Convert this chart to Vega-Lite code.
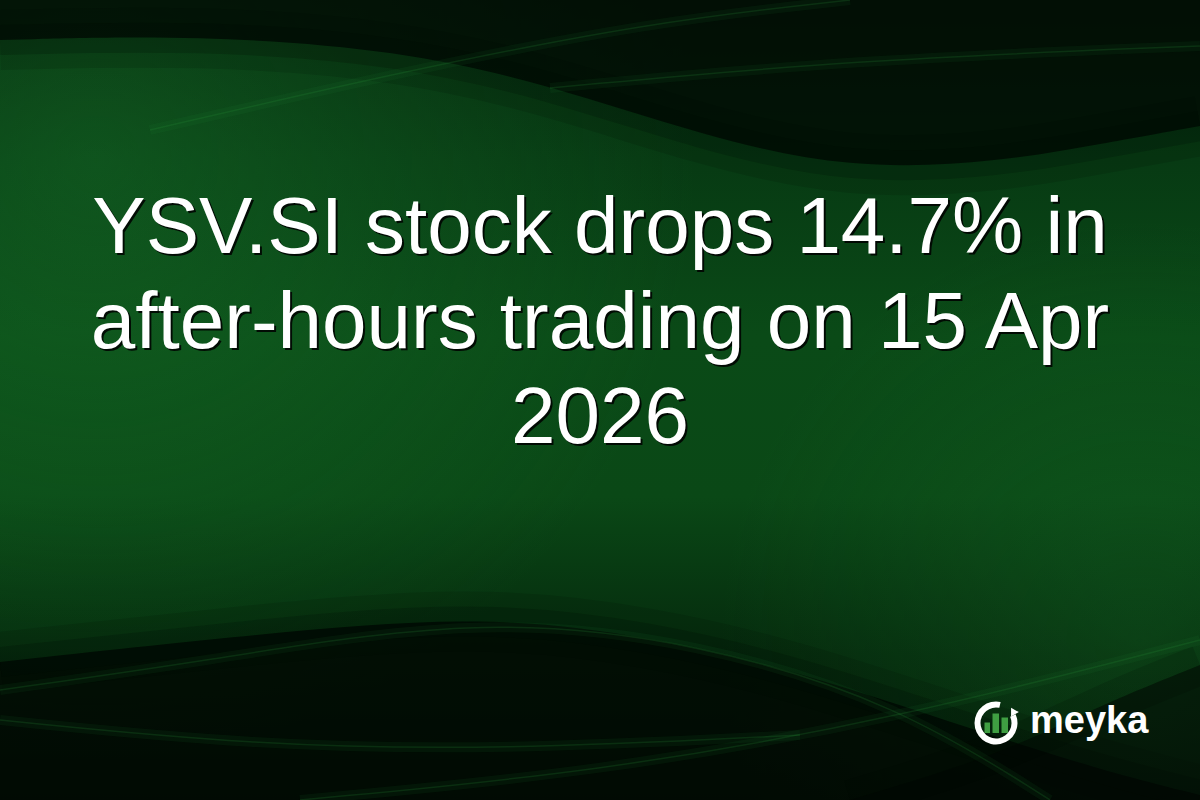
{
  "$schema": "https://vega.github.io/schema/vega-lite/v6.json",
  "width": 1200,
  "height": 800,
  "autosize": {"type": "fit", "contains": "padding"},
  "padding": 0,
  "background": "#063010",
  "config": {"view": {"stroke": null}},
  "encoding": {
    "x": {"field": "x", "type": "quantitative", "axis": null, "scale": {"domain": [0, 1200], "nice": false, "zero": false}},
    "y": {"field": "y", "type": "quantitative", "axis": null, "scale": {"domain": [0, 800], "nice": false, "zero": false, "reverse": true}}
  },
  "layer": [
    {
      "data": {"values": [{"x": 0, "x2": 1200, "y": 0, "y2": 800}]},
      "mark": {
        "type": "rect",
        "clip": true,
        "fill": {
          "gradient": "linear", "x1": 0, "y1": 0, "x2": 0, "y2": 1,
          "stops": [
            {"offset": 0, "color": "#04240c"},
            {"offset": 0.2, "color": "#073a13"},
            {"offset": 0.42, "color": "#0a4a17"},
            {"offset": 0.62, "color": "#0a4816"},
            {"offset": 0.82, "color": "#052a0d"},
            {"offset": 1, "color": "#031807"}
          ]
        }
      },
      "encoding": {"x2": {"field": "x2"}, "y2": {"field": "y2"}}
    },
    {
      "data": {"values": [{"x": 0, "x2": 1200, "y": 0, "y2": 800}]},
      "mark": {
        "type": "rect",
        "clip": true,
        "fill": {
          "gradient": "radial", "x1": 0.08, "y1": 0.3, "r1": 0, "x2": 0.08, "y2": 0.3, "r2": 0.5,
          "stops": [
            {"offset": 0, "color": "rgba(24,115,42,0.45)"},
            {"offset": 1, "color": "rgba(24,115,42,0)"}
          ]
        }
      },
      "encoding": {"x2": {"field": "x2"}, "y2": {"field": "y2"}}
    },
    {
      "data": {"values": [{"x": 0, "x2": 1200, "y": 0, "y2": 800}]},
      "mark": {
        "type": "rect",
        "clip": true,
        "fill": {
          "gradient": "radial", "x1": 0.95, "y1": 0.7, "r1": 0, "x2": 0.95, "y2": 0.7, "r2": 0.35,
          "stops": [
            {"offset": 0, "color": "rgba(24,110,40,0.3)"},
            {"offset": 1, "color": "rgba(24,110,40,0)"}
          ]
        }
      },
      "encoding": {"x2": {"field": "x2"}, "y2": {"field": "y2"}}
    },
    {
      "data": {"values": [
        {"x": 0, "y": 40, "y2": 0},
        {"x": 200, "y": 35, "y2": 0},
        {"x": 400, "y": 50, "y2": 0},
        {"x": 550, "y": 85, "y2": 0},
        {"x": 700, "y": 135, "y2": 0},
        {"x": 850, "y": 170, "y2": 0},
        {"x": 1000, "y": 162, "y2": 0},
        {"x": 1100, "y": 144, "y2": 0},
        {"x": 1200, "y": 126, "y2": 0}
      ]},
      "layer": [
        {"mark": {"type": "area", "clip": true, "interpolate": "basis", "color": "#010803", "opacity": 0.75}, "encoding": {"y2": {"field": "y2"}}},
        {"mark": {"type": "line", "clip": true, "interpolate": "basis", "color": "#010803", "opacity": 0.2, "strokeWidth": 30}},
        {"mark": {"type": "line", "clip": true, "interpolate": "basis", "color": "#010803", "opacity": 0.12, "strokeWidth": 60}}
      ]
    },
    {
      "data": {"values": [
        {"x": 0, "y": 662, "y2": 800},
        {"x": 230, "y": 637, "y2": 800},
        {"x": 475, "y": 614, "y2": 800},
        {"x": 650, "y": 636, "y2": 800},
        {"x": 800, "y": 672, "y2": 800},
        {"x": 950, "y": 722, "y2": 800},
        {"x": 1100, "y": 770, "y2": 800},
        {"x": 1200, "y": 795, "y2": 800}
      ]},
      "layer": [
        {"mark": {"type": "area", "clip": true, "interpolate": "basis", "color": "#010803", "opacity": 0.8}, "encoding": {"y2": {"field": "y2"}}},
        {"mark": {"type": "line", "clip": true, "interpolate": "basis", "color": "#010803", "opacity": 0.2, "strokeWidth": 30}},
        {"mark": {"type": "line", "clip": true, "interpolate": "basis", "color": "#010803", "opacity": 0.12, "strokeWidth": 60}}
      ]
    },
    {
      "data": {"values": [
        {"x": 850, "y": 800, "y2": 800},
        {"x": 1000, "y": 755, "y2": 800},
        {"x": 1100, "y": 705, "y2": 800},
        {"x": 1200, "y": 665, "y2": 800}
      ]},
      "layer": [
        {"mark": {"type": "area", "clip": true, "interpolate": "basis", "color": "#010803", "opacity": 0.55}, "encoding": {"y2": {"field": "y2"}}},
        {"mark": {"type": "line", "clip": true, "interpolate": "basis", "color": "#010803", "opacity": 0.15, "strokeWidth": 40}}
      ]
    },
    {
      "data": {"values": [
        {"s": "a", "x": 300, "y": 800},
        {"s": "a", "x": 600, "y": 772},
        {"s": "a", "x": 900, "y": 718},
        {"s": "a", "x": 1200, "y": 640},
        {"s": "b", "x": 0, "y": 690},
        {"s": "b", "x": 200, "y": 662},
        {"s": "b", "x": 475, "y": 616},
        {"s": "b", "x": 700, "y": 642},
        {"s": "b", "x": 900, "y": 705},
        {"s": "b", "x": 1050, "y": 800},
        {"s": "c", "x": 150, "y": 130},
        {"s": "c", "x": 400, "y": 72},
        {"s": "c", "x": 650, "y": 22},
        {"s": "c", "x": 850, "y": 0},
        {"s": "d", "x": 550, "y": 88},
        {"s": "d", "x": 850, "y": 60},
        {"s": "d", "x": 1200, "y": 46},
        {"s": "e", "x": 0, "y": 720},
        {"s": "e", "x": 250, "y": 745},
        {"s": "e", "x": 500, "y": 750},
        {"s": "e", "x": 800, "y": 735}
      ]},
      "layer": [
        {"mark": {"type": "line", "clip": true, "interpolate": "basis", "color": "#2a9a3c", "opacity": 0.08, "strokeWidth": 10}, "encoding": {"detail": {"field": "s"}}},
        {"mark": {"type": "line", "clip": true, "interpolate": "basis", "color": "#2a9a3c", "opacity": 0.18, "strokeWidth": 1.5}, "encoding": {"detail": {"field": "s"}}}
      ]
    },
    {
      "data": {"values": [
        {"x": 600, "y": 253, "text": "YSV.SI stock drops 14.7% in"},
        {"x": 600, "y": 348, "text": "after-hours trading on 15 Apr"},
        {"x": 600, "y": 443, "text": "2026"}
      ]},
      "layer": [
        {
          "mark": {"type": "text", "font": "Liberation Sans", "fontSize": 80, "align": "center", "baseline": "alphabetic", "color": "#000000", "opacity": 0.85, "dx": 2, "dy": 2}
        },
        {
          "mark": {"type": "text", "font": "Liberation Sans", "fontSize": 80, "align": "center", "baseline": "alphabetic", "color": "#ffffff"}
        }
      ],
      "encoding": {"text": {"field": "text"}}
    },
    {
      "data": {"values": [
        {"x": 984.5, "x2": 990, "y": 722.5, "y2": 733},
        {"x": 992.5, "x2": 999, "y": 713.5, "y2": 733},
        {"x": 1001.5, "x2": 1008, "y": 717.5, "y2": 733}
      ]},
      "mark": {"type": "rect", "color": "#3f9e42"},
      "encoding": {"x2": {"field": "x2"}, "y2": {"field": "y2"}}
    },
    {
      "data": {"values": [{"x": 996, "y": 723}]},
      "mark": {"type": "arc", "innerRadius": 15.5, "outerRadius": 21.5, "theta": 1.15, "theta2": 6.5, "color": "#ffffff"}
    },
    {
      "data": {"values": [{"x": 1013, "y": 711}]},
      "mark": {"type": "point", "shape": "triangle-up", "filled": true, "size": 80, "angle": 330, "color": "#ffffff", "opacity": 1}
    },
    {
      "data": {"values": [{"x": 1030, "y": 733, "text": "meyka"}]},
      "mark": {"type": "text", "font": "Liberation Sans", "fontWeight": "bold", "fontSize": 38, "align": "left", "baseline": "alphabetic", "color": "#ffffff"},
      "encoding": {"text": {"field": "text"}}
    }
  ]
}
